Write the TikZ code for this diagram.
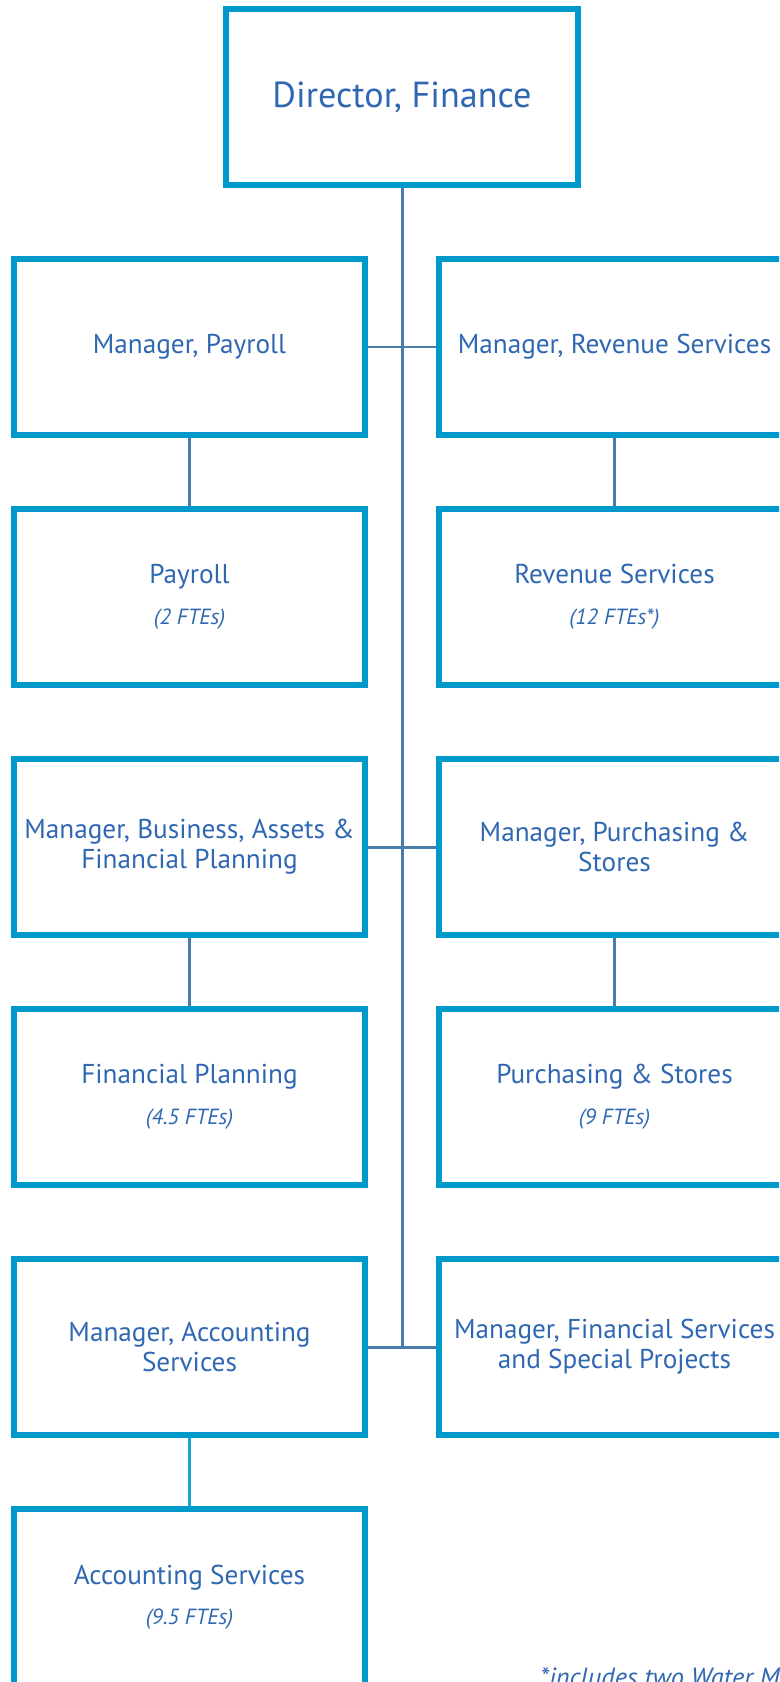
\documentclass[tikz,border=0pt]{standalone}
\usepackage{fontspec}
\setmainfont{PT Sans}
\definecolor{boxline}{HTML}{0099CC}
\definecolor{label}{HTML}{2F67B2}
\definecolor{link}{HTML}{4A7DAE}
\definecolor{linklt}{HTML}{1BA1D3}
\usetikzlibrary{positioning}
\newcommand{\ftes}[1]{{\itshape\fontsize{12.5}{15}\selectfont #1}}

\begin{document}
\begin{tikzpicture}[
    bx/.style={draw=boxline,line width=3.4pt,
      minimum width=7.03cm,minimum height=3.52cm,
      align=center,text=label,font=\fontsize{15.5}{17.1}\selectfont},
    dx/.style={bx,font=\fontsize{20.6}{24}\selectfont},
    ln/.style={link,line width=1.7pt},
    lnlt/.style={linklt,line width=1.7pt},
  ]
    \clip (0,0) rectangle (15.58,-33.64);

    \node[dx] (dir) at (8.04,-1.94) {Director, Finance};

    \node[bx] (pym) at (3.79,-6.94) {Manager, Payroll};
    \node[bx] (rvm) at (12.29,-6.94) {Manager, Revenue Services};
    \node[bx] (pay) at (3.79,-11.94)
      {Payroll\\[6pt]\ftes{(2 FTEs)}};
    \node[bx] (rev) at (12.29,-11.94)
      {Revenue Services\\[6pt]\ftes{(12 FTEs*)}};

    \node[bx] (bam) at (3.79,-16.94)
      {Manager, Business, Assets \&\\Financial Planning};
    \node[bx] (psm) at (12.29,-16.94)
      {Manager, Purchasing \&\\Stores};
    \node[bx] (fin) at (3.79,-21.94)
      {Financial Planning\\[6pt]\ftes{(4.5 FTEs)}};
    \node[bx] (pur) at (12.29,-21.94)
      {Purchasing \& Stores\\[6pt]\ftes{(9 FTEs)}};

    \node[bx] (acm) at (3.79,-26.94)
      {Manager, Accounting\\Services};
    \node[bx] (fsm) at (12.29,-26.94)
      {Manager, Financial Services\\and Special Projects};
    \node[bx] (acc) at (3.79,-31.94)
      {Accounting Services\\[6pt]\ftes{(9.5 FTEs)}};

    \node[anchor=base west,text=label,inner sep=0pt,
      font=\itshape\fontsize{15}{18}\selectfont] (note) at (10.8,-33.72)
      {*includes two Water M};

    % spine from the director down to the last pair of managers
    \draw[ln] (dir.south) -- (dir.south |- acm.east);
    \draw[ln] (pym.east) -- (rvm.west);
    \draw[ln] (bam.east) -- (psm.west);
    \draw[ln] (acm.east) -- (fsm.west);

    \draw[ln] (pym) -- (pay); \draw[ln] (rvm) -- (rev);
    \draw[ln] (bam) -- (fin); \draw[ln] (psm) -- (pur);
    \draw[lnlt] (acm) -- (acc);
  \end{tikzpicture}
\end{document}
